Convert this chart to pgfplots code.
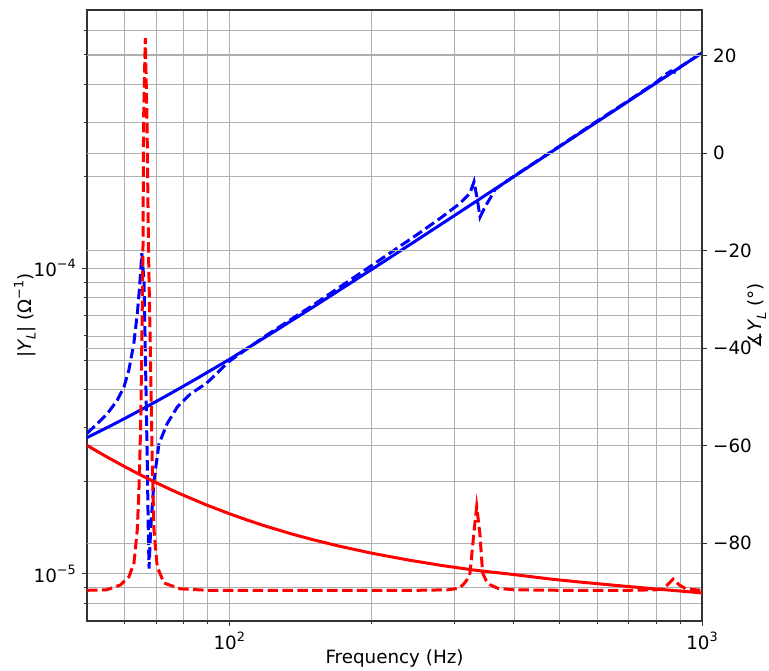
\documentclass[border=0pt]{standalone}
\usepackage{pgfplots}
\pgfplotsset{compat=1.18}
\usepackage{fontspec}
\setmainfont{DejaVu Sans}
\definecolor{gridgray}{HTML}{B0B0B0}
\newcommand{\sups}[1]{\raisebox{0.45em}{\fontsize{12.8}{12.8}\selectfont #1}}
\newcommand{\subs}[1]{\raisebox{-0.22em}{\fontsize{12.8}{12.8}\selectfont #1}}

\pgfplotsset{
  twin/.style={
    at={(0pt,0pt)}, anchor=south west,
    scale only axis, width=615pt, height=611pt,
    xmin=50, xmax=1000,
    tick align=outside,
    major tick length=4.9pt, minor tick length=2.8pt,
    major grid style={gridgray, line width=0.8pt},
    minor grid style={gridgray, line width=0.8pt},
    axis line style={black!80, line width=1.1pt},
    every tick/.style={black!80, line width=1.0pt},
    tick label style={font=\fontsize{18.3}{22}\selectfont},
    label style={font=\fontsize{18.3}{22}\selectfont},
  },
  sol/.style={line width=3pt},
  dsh/.style={line width=3pt, dash pattern=on 10.5pt off 4.4pt},
}

\begin{document}
\fontsize{18.3}{22}\selectfont
\begin{tikzpicture}
\path[use as bounding box] (-87pt,-50pt) rectangle (682pt,621pt);

% left axis: magnitude
\begin{axis}[twin, xmode=log,
  ymode=log, ymin=7e-6, ymax=7e-4,
  xtick={100,1000}, xticklabels={10\sups{2},10\sups{3}},
  minor xtick={60,70,80,90,200,300,400,500,600,700,800,900},
  ytick={1e-5,1e-4}, yticklabels={10\sups{−5},10\sups{−4}},
  minor ytick={8e-6,9e-6,2e-5,3e-5,4e-5,5e-5,6e-5,7e-5,8e-5,9e-5,2e-4,3e-4,4e-4,5e-4,6e-4},
  xtick pos=left, ytick pos=left,
  grid=both,
  xlabel={Frequency (Hz)},
  ylabel={|\textit{Y}\subs{\textit{L}}| (Ω\sups{−1})},
  xlabel style={at={(axis description cs:0.5,-0.0606)}, anchor=center},
  ylabel style={at={(axis description cs:-0.1008,0.5)}, anchor=center},
]
\addplot[blue, sol] coordinates {
(50,2.789e-5) (55,3.001e-5) (60,3.217e-5) (66,3.481e-5) (75,3.884e-5) (85,4.337e-5)
(100,5.027e-5) (125,6.226e-5) (150,7.44e-5) (200,9.90e-5) (250,1.239e-4)
(300,1.490e-4) (350,1.742e-4) (400,1.995e-4) (500,2.503e-4) (600,3.013e-4)
(700,3.525e-4) (800,4.04e-4) (900,4.556e-4) (1000,5.07e-4)
};
\addplot[blue, dsh] coordinates {
(50,2.88e-5) (52.6,3.10e-5) (55.2,3.34e-5) (57.9,3.69e-5) (59.85,4.08e-5)
(61.3,4.63e-5) (62.8,5.66e-5) (63.9,7.12e-5) (64.6,8.68e-5) (65.3,1.12e-4)
(66.0,9.13e-5) (66.5,4.88e-5) (67.07,2.29e-5) (67.4,1.38e-5) (67.65,1.04e-5)
(68.15,1.38e-5) (69.3,2.02e-5) (71.0,2.66e-5) (73.9,3.10e-5) (77.6,3.51e-5)
(82.8,3.88e-5) (89.5,4.2e-5) (100,4.96e-5) (120,6.04e-5) (150,7.55e-5)
(200,1.02e-4) (250,1.29e-4) (280,1.46e-4) (307.7,1.63e-4) (323,1.76e-4)
(329.4,1.92e-4) (334.9,1.67e-4) (339.2,1.47e-4) (347.6,1.59e-4) (356.1,1.69e-4)
(365,1.81e-4) (400,2.00e-4) (500,2.51e-4) (600,3.03e-4) (700,3.54e-4)
(800,4.06e-4) (840,4.32e-4) (860,4.42e-4) (875,4.38e-4) (900,4.56e-4) (1000,5.07e-4)
};
\end{axis}

% right axis: angle
\begin{axis}[twin, xmode=log,
  ymin=-96, ymax=29.4,
  axis x line=none, axis y line*=right,
  ytick={-80,-60,-40,-20,0,20}, yticklabels={−80,−60,−40,−20,0,20},
  ymajorgrids,
  ylabel={∡\textit{Y}\subs{\textit{L}} (°)},
  ylabel style={at={(axis description cs:1.0895,0.5)}, anchor=center, inner sep=0pt},
]
\addplot[red, sol] coordinates {
(50,-59.97) (55,-62.29) (60,-64.30) (65,-66.06) (70,-67.61) (75,-68.98) (80,-70.20)
(90,-72.28) (100,-73.98) (110,-75.40) (120,-76.60) (135,-78.09) (150,-79.29)
(170,-80.59) (200,-82.08) (240,-83.51) (280,-84.57) (330,-85.56) (400,-86.47)
(480,-87.41) (560,-88.07) (650,-88.65) (750,-89.19) (850,-89.65) (1000,-90.24)
};
\addplot[red, dsh] coordinates {
(50,-89.7) (55,-89.6) (58.88,-88.6) (61.35,-86.9) (62.86,-84.1) (63.87,-77.3)
(64.40,-69.1) (64.91,-56.8) (65.22,-43.1) (65.67,-20.5) (65.87,6.8) (66.42,23.6)
(66.97,6.8) (67.48,-20.5) (68.15,-43.1) (68.71,-63.6) (69.29,-77.3) (70.40,-84.9)
(72.74,-88.2) (78.77,-89.4) (90,-89.7) (150,-89.7) (250,-89.7) (290,-89.6)
(305,-89.3) (312.1,-88.6) (318,-87.6) (323.1,-86.1) (329.2,-77.9) (333.7,-72.5)
(338.8,-77.9) (343.5,-86.1) (349,-87.6) (356.8,-88.6) (370,-89.3) (400,-89.6)
(500,-89.7) (700,-89.7) (800,-89.6) (825,-89.4) (845,-88.6) (868.8,-87.4)
(895,-88.6) (925,-89.4) (1000,-89.7)
};
\end{axis}
\end{tikzpicture}
\end{document}
